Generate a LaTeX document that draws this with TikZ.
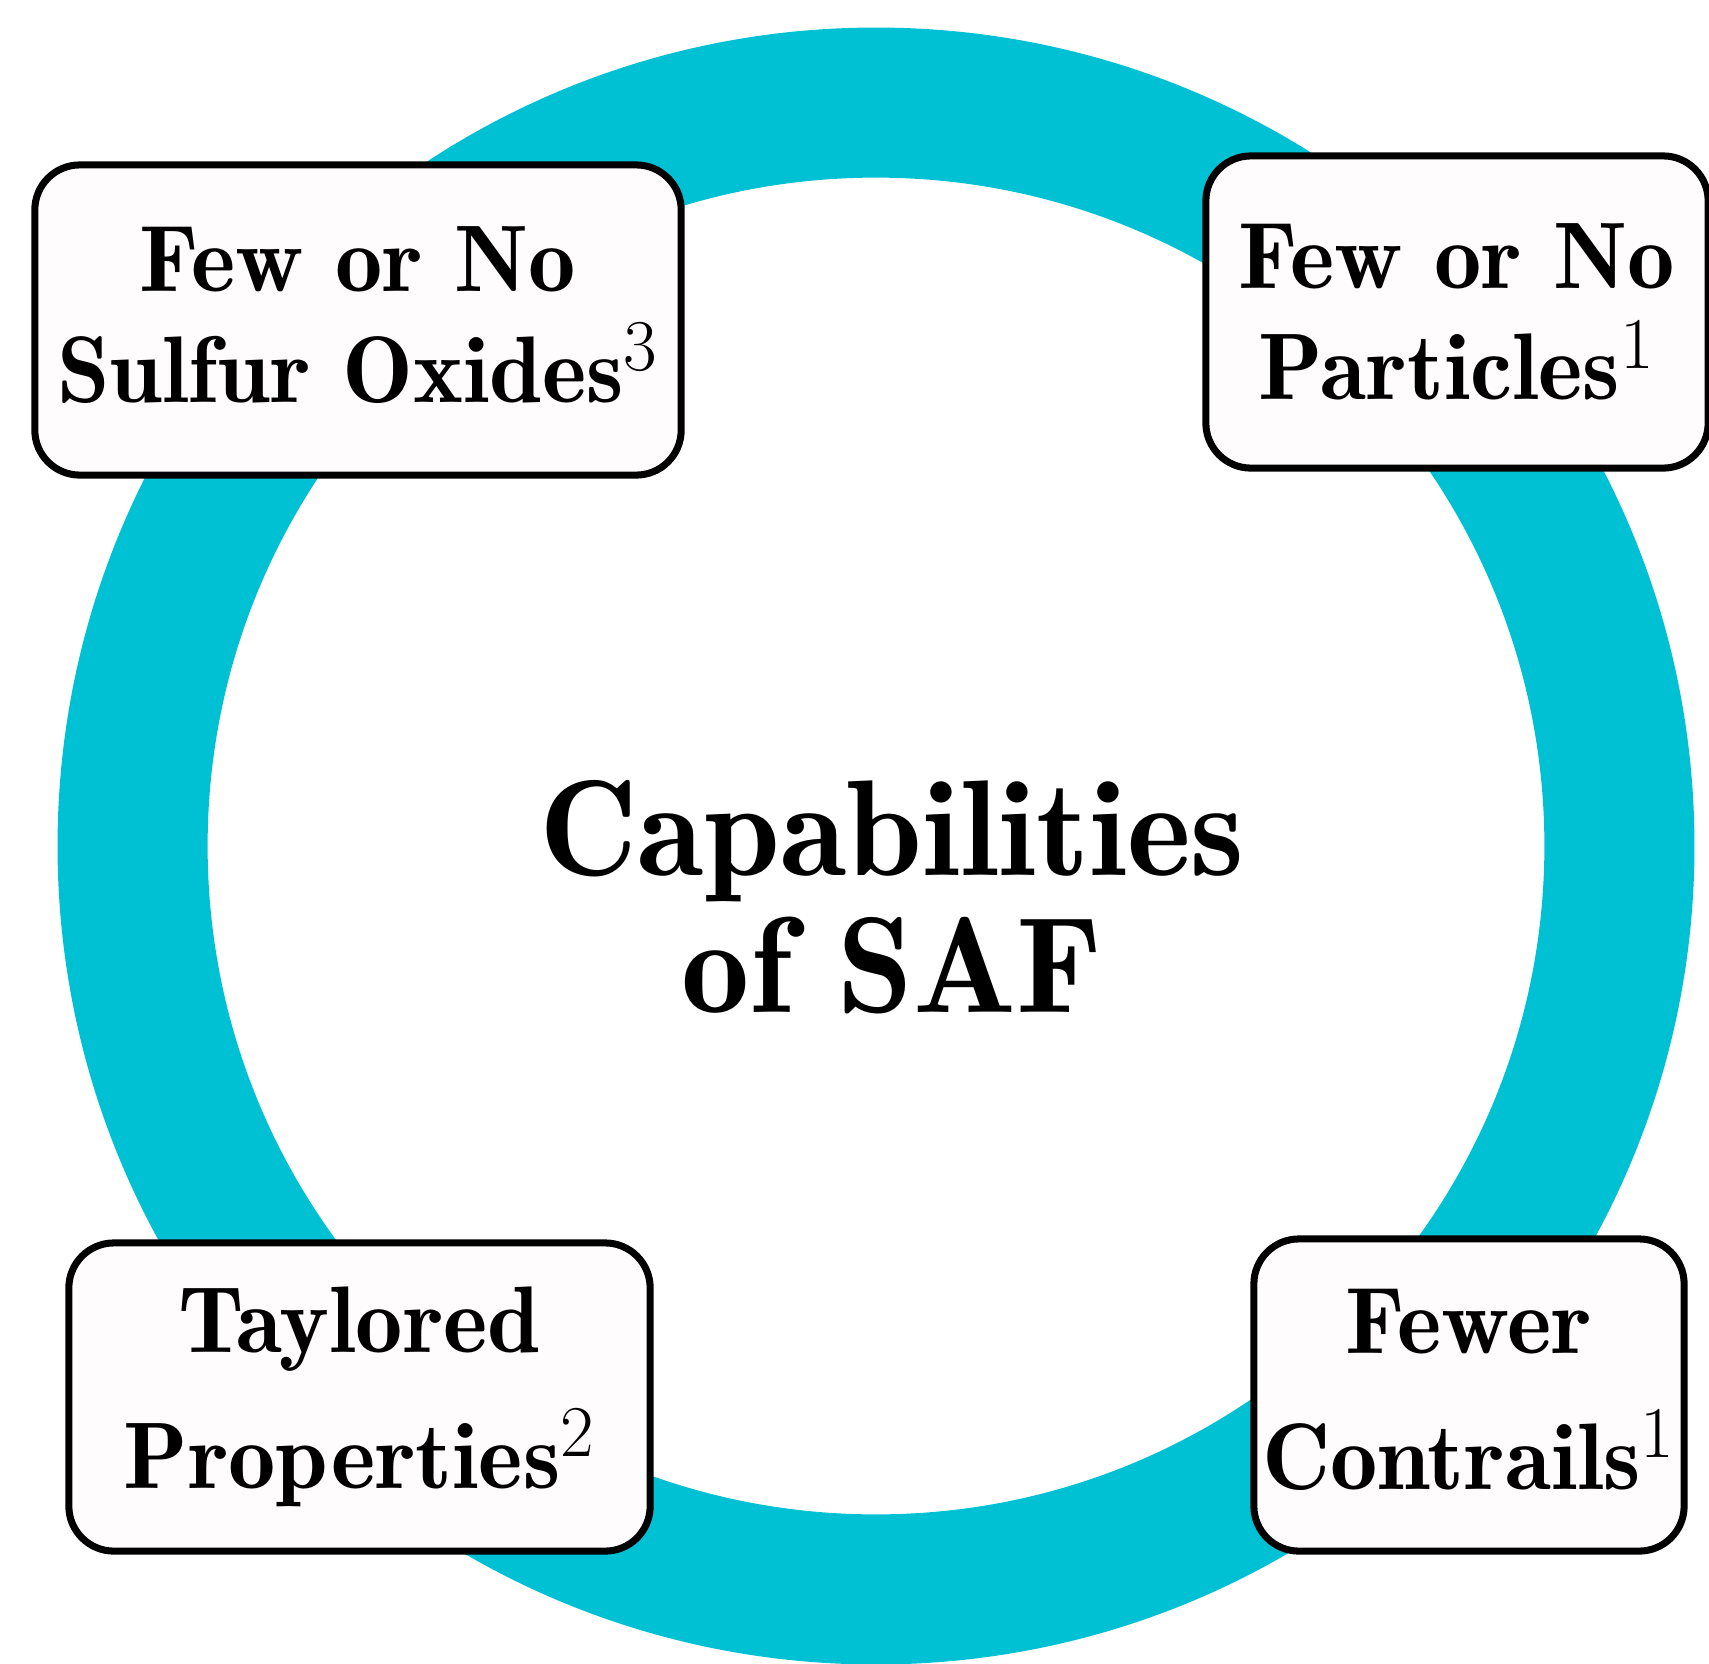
\documentclass[tikz,border=0pt]{standalone}
\definecolor{ringcyan}{RGB}{0,193,212}
\definecolor{boxfill}{RGB}{255,252,253}
% larger script size for the footnote marks in the boxes
\DeclareMathSizes{26.9}{26.9}{22.5}{16}
\newcommand{\lowpad}{\rule[-3.2pt]{0pt}{3.2pt}}
\begin{document}
\begin{tikzpicture}[x=0.01cm,y=-0.01cm]
\useasboundingbox (0,0) rectangle (1709,1663);
\tikzset{
  capbox/.style={draw=black, fill=boxfill, line width=2pt, rounded corners=0.45cm,
    inner sep=0pt, align=center},
  toptext/.style={font=\fontseries{b}\fontsize{26.9}{31.75}\selectfont},
  lowtext/.style={font=\fontseries{b}\fontsize{26.9}{38.6}\selectfont},
  titletext/.style={align=center, inner sep=0pt, font=\fontseries{b}\fontsize{38.8}{38.9}\selectfont}
}
% ring
\coordinate (hub) at (876,846);
\draw[ringcyan, line width=1.5cm] (hub) circle[radius=7.43cm];
% title
\node[titletext] (title) at (892,897) {Capabilities\\of SAF};
% four capability boxes
\node[capbox, toptext, minimum width=6.46cm, minimum height=3.1cm] (sox) at (358,320) {Few or No\\Sulfur Oxides$^3$\lowpad};
\node[capbox, toptext, minimum width=5.02cm, minimum height=3.12cm] (pm) at (1457,312) {Few or No\\Particles$^1$};
\node[capbox, lowtext, minimum width=5.81cm, minimum height=3.08cm] (tail) at (359.5,1397) {Taylored\\Properties$^2$};
\node[capbox, lowtext, minimum width=4.30cm, minimum height=3.12cm] (con) at (1469,1395) {Fewer\\Contrails$^1$\lowpad};
\end{tikzpicture}
\end{document}
